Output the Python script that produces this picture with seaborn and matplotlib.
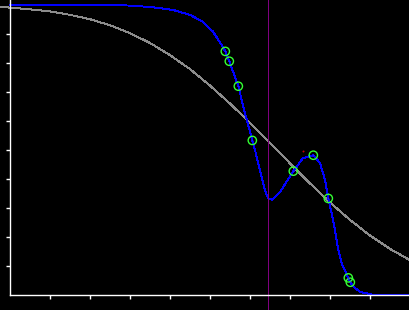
import matplotlib
matplotlib.use("Agg")
import matplotlib.pyplot as plt
import seaborn as sns
import pandas as pd

sns.set_style("dark")
plt.rcParams["lines.antialiased"] = False

# Gray reference curve
gray_x = [-0.25, 0, 0.5, 1, 1.5, 2, 2.5, 3, 3.5, 4, 4.5, 5, 5.5, 6, 6.5,
          7, 7.5, 8, 8.5, 9, 9.5, 10]
gray_y = [0.993, 0.991, 0.985, 0.978, 0.966, 0.951, 0.930, 0.903, 0.869,
          0.827, 0.779, 0.722, 0.660, 0.594, 0.524, 0.454, 0.385, 0.319,
          0.259, 0.205, 0.159, 0.120]

# Blue fitted curve
blue_x = [0, 2.25, 3.03, 3.575, 4.075, 4.5, 4.825, 5.075, 5.29, 5.383, 5.483,
          5.708, 5.875, 6.058, 6.125, 6.25, 6.375, 6.45, 6.55, 6.75, 7.083,
          7.325, 7.583, 7.75, 7.875, 7.958, 8.042, 8.125, 8.208, 8.292,
          8.458, 8.508, 8.583, 8.75, 9.0, 9.075, 10.0]
blue_y = [1.0, 1.0, 0.998, 0.992, 0.983, 0.966, 0.942, 0.908, 0.862, 0.840,
          0.806, 0.720, 0.627, 0.533, 0.500, 0.431, 0.362, 0.334, 0.328,
          0.355, 0.427, 0.472, 0.482, 0.455, 0.397, 0.333, 0.282, 0.224,
          0.155, 0.109, 0.059, 0.044, 0.029, 0.011, 0.003, 0.0, 0.0]

# Green sample points
pts_x = [5.383, 5.483, 5.708, 6.058, 7.083, 7.583, 7.958, 8.458, 8.508]
pts_y = [0.840, 0.806, 0.720, 0.533, 0.427, 0.482, 0.333, 0.059, 0.044]

# Purple vertical marker and small red point
vline_x = 6.458
red_x = [7.325]
red_y = [0.498]

x_ticks = [1, 2, 3, 4, 5, 6, 7, 8, 9]
y_ticks = [0.1, 0.2, 0.3, 0.4, 0.5, 0.6, 0.7, 0.8, 0.9]

fig = plt.figure(figsize=(4.1, 3.1), dpi=100, facecolor="black")
ax = fig.add_axes([0, 0, 1, 1])
ax.set_facecolor("black")

gray_df = pd.DataFrame({"x": gray_x, "y": gray_y})
blue_df = pd.DataFrame({"x": blue_x, "y": blue_y})
pts_df = pd.DataFrame({"x": pts_x, "y": pts_y})

sns.lineplot(data=gray_df, x="x", y="y", ax=ax, color="#8c8c8c", lw=0.7,
             sort=False, estimator=None)
sns.lineplot(data=blue_df, x="x", y="y", ax=ax, color="#0000ff", lw=0.7,
             sort=False, estimator=None)
ax.axvline(vline_x, color="#800080", lw=0.7)
sns.scatterplot(data=pts_df, x="x", y="y", ax=ax, s=36, facecolor="none",
                edgecolor="#33ff33", linewidth=1.0, zorder=5)
sns.scatterplot(data=pts_df, x="x", y="y", ax=ax, s=1.5, color="#2020ff",
                linewidth=0, zorder=6)
sns.scatterplot(x=red_x, y=red_y, ax=ax, s=2, color="#cc0000", linewidth=0,
                zorder=6)

ax.set_xlim(-0.25, 10.0)
ax.set_ylim(-0.0517, 1.0172)
ax.grid(False)
ax.set_xlabel("")
ax.set_ylabel("")

for side in ["top", "right"]:
    ax.spines[side].set_visible(False)
ax.spines["left"].set_position(("data", 0))
ax.spines["bottom"].set_position(("data", 0))
ax.spines["left"].set_bounds(0, 1.0172)
ax.spines["bottom"].set_bounds(0, 10.0)
for side in ["left", "bottom"]:
    ax.spines[side].set_visible(True)
    ax.spines[side].set_color("white")
    ax.spines[side].set_linewidth(1.0)

ax.set_xticks(x_ticks)
ax.set_yticks(y_ticks)
ax.set_xticklabels([])
ax.set_yticklabels([])
ax.tick_params(axis="both", direction="out", length=2.8, width=1.0,
               color="white", left=True, bottom=True)

fig.savefig("out.png", dpi=100, facecolor="black")
